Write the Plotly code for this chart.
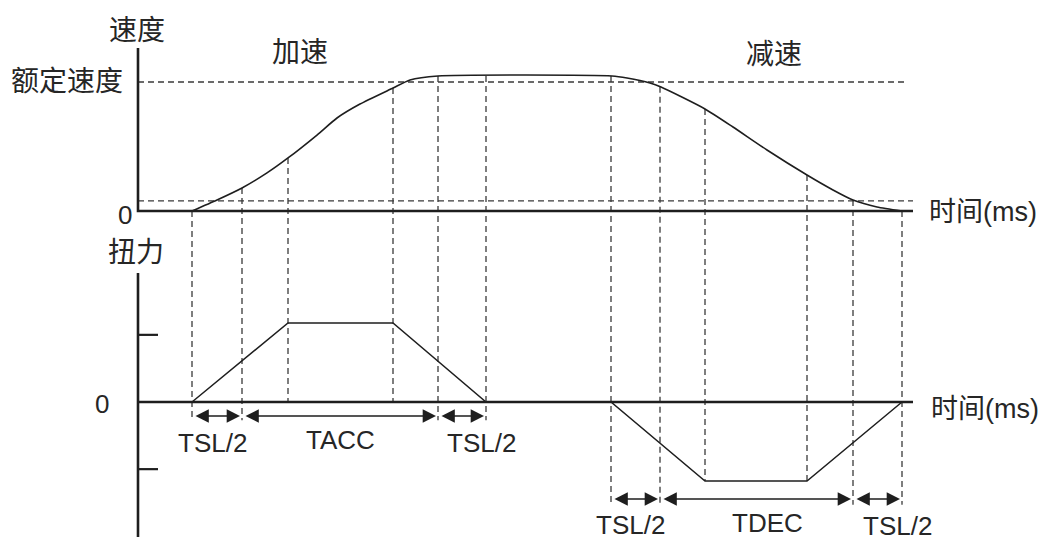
import numpy as np
import plotly.graph_objects as go

# time in ms, 0 at the vertical axes
speed_t = [54, 79, 104, 129, 150, 179, 199, 222, 255, 272, 300, 474, 489, 512, 523, 567, 595, 629, 669, 695, 715, 739, 764]
speed_v = [0, 0.085, 0.178, 0.295, 0.411, 0.589, 0.721, 0.829, 0.953, 1.016, 1.047, 1.047,
           1.031, 0.992, 0.961, 0.791, 0.651, 0.473, 0.279, 0.163, 0.085, 0.031, 0]
torque_t = [54, 150, 255, 348, 473, 567, 669, 764]
torque_v = [0, 1, 1, 0, 0, -1, -1, 0]
rated_speed = 1.0
low_speed = 0.078
torque_ticks = [0.85, -0.85]
mark_t = [54, 104, 150, 255, 300, 348, 473, 522, 567, 669, 715, 764]
mark_end = [-0.23, -0.23, 0, 0, -0.23, -0.23, -1.3, -1.3, -1, -1, -1.3, -1.3]
span_start = [54, 104, 300, 473, 522, 715]
span_end = [104, 300, 348, 522, 715, 764]
span_labels = ["TSL/2", "TACC", "TSL/2", "TSL/2", "TDEC", "TSL/2"]

W, H = 1056, 541
X0 = 138                      # pixel column of the axes
S0, S_PX = 211, 129           # speed zero row, pixels per unit
T0, T_PX = 402, 79            # torque zero row, pixels per unit

INK = "#1e1e1e"
DASH = "#3a3a3a"
CJK = "Noto Sans CJK SC, sans-serif"
LATIN = "Arial, Liberation Sans, Noto Sans CJK SC, sans-serif"


def torque_to_speed(v):
    row = T0 - v * T_PX
    return (S0 - row) / S_PX


def paper(x, y):
    return x / W, 1 - y / H


fig = go.Figure()

# dashed guides
guide_x, guide_y = [], []
tops = np.interp(mark_t, speed_t, speed_v)
for t, top, end in zip(mark_t, tops, mark_end):
    guide_x += [t, t, None]
    guide_y += [top, torque_to_speed(end), None]
guide_x += [0, 769, None, 0, 775]
guide_y += [rated_speed, rated_speed, None, low_speed, low_speed]
fig.add_trace(go.Scatter(x=guide_x, y=guide_y, mode="lines",
                         line=dict(color=DASH, width=1.3, dash="6px,4px")))

# axes
fig.add_trace(go.Scatter(x=[0, 0, 775], y=[(S0 - 48) / S_PX, 0, 0], mode="lines",
                         line=dict(color=INK, width=2.6)))
fig.add_trace(go.Scatter(x=[0, 0], y=[(T0 - 273) / T_PX, -(537 - T0) / T_PX], yaxis="y2",
                         mode="lines", line=dict(color=INK, width=2.6)))
fig.add_trace(go.Scatter(x=[0, 775], y=[0, 0], yaxis="y2", mode="lines",
                         line=dict(color=INK, width=2.6)))
tick_x, tick_y = [], []
for v in torque_ticks:
    tick_x += [0, 20, None]
    tick_y += [v, v, None]
fig.add_trace(go.Scatter(x=tick_x, y=tick_y, yaxis="y2", mode="lines",
                         line=dict(color=INK, width=2.2)))

# curves
fig.add_trace(go.Scatter(x=speed_t, y=speed_v, mode="lines",
                         line=dict(color=INK, width=1.6, shape="spline", smoothing=0.6)))
fig.add_trace(go.Scatter(x=torque_t, y=torque_v, yaxis="y2", mode="lines",
                         line=dict(color=INK, width=1.5)))

annotations = []
rows = [-0.177, -0.177, -0.177, -1.228, -1.228, -1.228]
for a, b, lvl in zip(span_start, span_end, rows):
    annotations.append(dict(
        x=b - 2, y=lvl, ax=a + 2, ay=lvl, xref="x", yref="y2", axref="x", ayref="y2",
        text="", showarrow=True, arrowhead=2, startarrowhead=2, arrowside="end+start",
        arrowsize=1.9, startarrowsize=1.9, arrowwidth=1.4, arrowcolor=INK,
        standoff=0, startstandoff=0,
    ))

texts = [
    ("速度", 137, 28, 28, CJK),
    ("额定速度", 67, 79, 28, CJK),
    ("加速", 300, 50, 28, CJK),
    ("减速", 774, 52, 28, CJK),
    ("0", 125, 215, 26, LATIN),
    ("时间(ms)", 983, 212, 27, LATIN),
    ("扭力", 136, 250, 28, CJK),
    ("0", 102, 404, 26, LATIN),
    ("时间(ms)", 985, 409, 27, LATIN),
]
label_pos = [(212, 443), (340, 440), (481, 443), (630, 525), (767, 523), (897, 526)]
for lab, (lx, ly) in zip(span_labels, label_pos):
    texts.append((lab, lx, ly, 26, LATIN))

for s, x, y, size, fam in texts:
    px, py = paper(x, y)
    annotations.append(dict(x=px, y=py, xref="paper", yref="paper", text=s, showarrow=False,
                            xanchor="center", yanchor="middle",
                            font=dict(family=fam, size=size, color="#262626")))

fig.update_layout(
    width=W, height=H,
    margin=dict(l=0, r=0, t=0, b=0),
    paper_bgcolor="white", plot_bgcolor="white",
    showlegend=False,
    xaxis=dict(range=[-X0, W - X0], visible=False, domain=[0, 1]),
    yaxis=dict(range=[(S0 - H) / S_PX, S0 / S_PX], visible=False, domain=[0, 1]),
    yaxis2=dict(range=[(T0 - H) / T_PX, T0 / T_PX], visible=False, overlaying="y"),
    annotations=annotations,
)

fig.write_html("out.html", config={"displayModeBar": False},
               post_script="document.body.style.margin='0';")
